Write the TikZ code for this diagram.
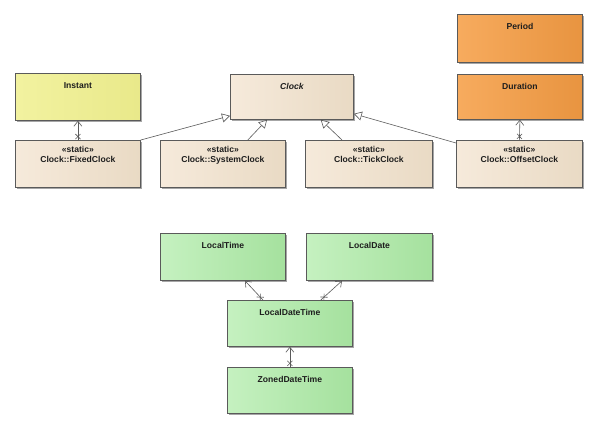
\documentclass[tikz,border=0pt]{standalone}
\usepackage{fontspec}
\setmainfont{Liberation Sans}
\usetikzlibrary{arrows.meta,shadows,shapes.misc}
\definecolor{bordc}{HTML}{5A5A5A}
\definecolor{txtc}{HTML}{1E1E1E}
\tikzset{
  box/.style={draw=bordc, line width=0.8pt, rectangle, anchor=north west, inner sep=0pt,
    drop shadow={shadow xshift=2pt, shadow yshift=-2pt, opacity=0.35, fill=black}},
  yel/.style={box, left color={rgb,255:red,242;green,242;blue,160}, middle color={rgb,255:red,249;green,249;blue,200}, right color={rgb,255:red,233;green,233;blue,138}},
  beige/.style={box, left color={rgb,255:red,246;green,234;blue,219}, middle color={rgb,255:red,251;green,245;blue,236}, right color={rgb,255:red,233;green,218;blue,196}},
  orng/.style={box, left color={rgb,255:red,247;green,171;blue,94}, middle color={rgb,255:red,249;green,182;blue,110}, right color={rgb,255:red,232;green,148;blue,64}},
  grn/.style={box, left color={rgb,255:red,197;green,241;blue,192}, middle color={rgb,255:red,214;green,247;blue,210}, right color={rgb,255:red,165;green,225;blue,158}},
  ttl/.style={anchor=north, font=\fontsize{8.6}{10}\selectfont\bfseries, text=txtc, inner sep=0pt},
  gen/.style={draw=bordc, line width=0.6pt, -{Triangle[open, length=8pt, width=9pt, fill=white]}},
  assoc/.style={draw=bordc, line width=0.6pt, -{Straight Barb[length=5pt, width=8pt]}},
  xmark/.style={cross out, draw=bordc, line width=0.6pt, minimum size=4.5pt, inner sep=0pt, sloped},
}
\newcommand{\boxat}[6]{% style, name, x1, y1, x2, y2
  \node[#1, minimum width={(#5-#3)*1pt}, minimum height={(#6-#4)*1pt}] (#2) at (#3,#4) {};}
\begin{document}
\begin{tikzpicture}[x=1pt, y=-1pt]
\useasboundingbox[fill=white] (0,0) rectangle (593,422);
% boxes
\boxat{yel}{instant}{15}{73}{140}{120}
\boxat{beige}{clock}{230}{74}{353}{119}
\boxat{orng}{period}{457}{14}{582}{62}
\boxat{orng}{duration}{457}{74}{582}{119}
\boxat{beige}{fixed}{15}{140}{140}{187}
\boxat{beige}{system}{160}{140}{285}{187}
\boxat{beige}{tick}{305}{140}{432}{187}
\boxat{beige}{offset}{456}{140}{582}{187}
\boxat{grn}{ltime}{160}{233}{285}{280}
\boxat{grn}{ldate}{306}{233}{432}{280}
\boxat{grn}{ldt}{227}{300}{352}{346}
\boxat{grn}{zdt}{227}{367}{352}{413}
% titles
\node[ttl] (t-instant) at ([yshift=-9pt]instant.north) {Instant};
\node[ttl] (t-clock) at ([yshift=-9pt]clock.north) {\itshape Clock};
\node[ttl] (t-period) at ([yshift=-9pt]period.north) {Period};
\node[ttl] (t-duration) at ([yshift=-9pt]duration.north) {Duration};
\node[ttl, align=center] (t-fixed) at ([yshift=-6pt]fixed.north) {«static»\\Clock::FixedClock};
\node[ttl, align=center] (t-system) at ([yshift=-6pt]system.north) {«static»\\Clock::SystemClock};
\node[ttl, align=center] (t-tick) at ([yshift=-6pt]tick.north) {«static»\\Clock::TickClock};
\node[ttl, align=center] (t-offset) at ([yshift=-6pt]offset.north) {«static»\\Clock::OffsetClock};
\node[ttl] (t-ltime) at ([yshift=-9pt]ltime.north) {LocalTime};
\node[ttl] (t-ldate) at ([yshift=-9pt]ldate.north) {LocalDate};
\node[ttl] (t-ldt) at ([yshift=-9pt]ldt.north) {LocalDateTime};
\node[ttl] (t-zdt) at ([yshift=-9pt]zdt.north) {ZonedDateTime};
% generalizations
\draw[gen] (fixed.north east) -- ([yshift=4pt]clock.south west);
\draw[gen] ([xshift=-38pt]system.north east) -- ([xshift=37pt]clock.south west);
\draw[gen] ([xshift=37pt]tick.north west) -- ([xshift=-33pt]clock.south east);
\draw[gen] ([yshift=-3pt]offset.north west) -- ([yshift=6pt]clock.south east);
% associations
\draw[assoc] (fixed.north) -- (instant.south) node[xmark, pos=0.18] (x1) {};
\draw[assoc] (offset.north) -- (duration.south) node[xmark, pos=0.18] (x2) {};
\draw[assoc] ([xshift=36pt]ldt.north west) -- ([xshift=85pt]ltime.south west) node[xmark, pos=0.15] (x3) {};
\draw[assoc] ([xshift=-32pt]ldt.north east) -- ([xshift=36pt]ldate.south west) node[xmark, pos=0.15] (x4) {};
\draw[assoc] (zdt.north) -- (ldt.south) node[xmark, pos=0.18] (x5) {};
\end{tikzpicture}
\end{document}
